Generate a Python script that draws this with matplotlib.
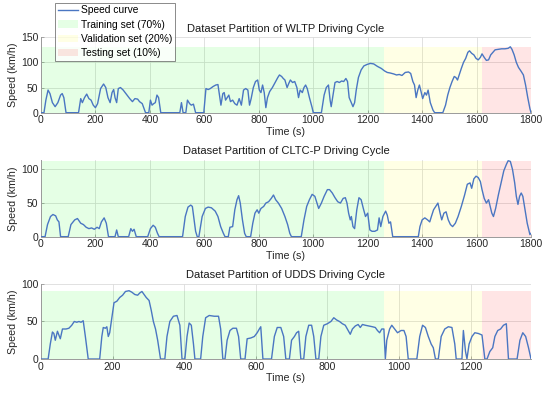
import matplotlib
matplotlib.use('Agg')
import matplotlib.pyplot as plt
from matplotlib.patches import Patch
from matplotlib.lines import Line2D

plt.rcParams['font.family'] = ['Liberation Sans', 'DejaVu Sans']

# WLTP speed trace (time s, speed km/h)
wltp_t = [0, 11, 18, 26, 33, 42, 52, 62, 72, 78, 84, 92, 138, 146, 152, 160, 168, 176, 184, 192,
          200, 208, 219, 230, 238, 246, 254, 261, 267, 272, 278, 284, 292, 302, 316, 326, 336, 345,
          355, 362, 372, 384, 396, 402, 408, 414, 420, 426, 432, 440, 510, 516, 522, 532, 538, 546,
          552, 560, 568, 598, 606, 614, 622, 632, 642, 650, 657, 661, 668, 673, 678, 684, 690, 696,
          704, 712, 720, 728, 736, 744, 752, 760, 766, 772, 780, 788, 796, 802, 808, 814, 820, 826,
          832, 840, 850, 860, 870, 876, 884, 890, 896, 904, 910, 916, 924, 932, 940, 946, 952, 960,
          966, 972, 978, 986, 996, 1000, 1030, 1040, 1048, 1056, 1062, 1066, 1074, 1080, 1088, 1096,
          1104, 1112, 1120, 1126, 1132, 1140, 1146, 1152, 1158, 1166, 1176, 1186, 1198, 1210, 1222,
          1236, 1250, 1262, 1272, 1282, 1296, 1306, 1316, 1326, 1338, 1350, 1358, 1366, 1372, 1378,
          1384, 1390, 1396, 1402, 1410, 1416, 1422, 1430, 1440, 1446, 1476, 1486, 1494, 1502, 1510,
          1518, 1524, 1530, 1536, 1544, 1552, 1560, 1568, 1574, 1582, 1590, 1598, 1606, 1614, 1620,
          1628, 1636, 1644, 1652, 1660, 1668, 1680, 1692, 1704, 1716, 1724, 1730, 1738, 1746, 1754,
          1764, 1772, 1780, 1788, 1796, 1800]
wltp_v = [0, 0, 25, 45, 38, 20, 12, 20, 35, 38, 30, 0, 0, 28, 20, 30, 37, 28, 25, 15,
          10, 18, 48, 57, 50, 30, 20, 40, 46, 30, 20, 48, 50, 45, 35, 28, 22, 28,
          27, 22, 18, 0, 0, 25, 15, 18, 20, 35, 30, 0, 0, 20, 0, 0, 25, 18,
          15, 17, 0, 0, 48, 46, 48, 52, 55, 56, 30, 15, 38, 40, 25, 30, 35, 22,
          25, 18, 15, 28, 15, 45, 48, 45, 15, 28, 50, 62, 65, 45, 40, 55, 40, 10,
          30, 42, 50, 60, 70, 75, 72, 68, 65, 50, 58, 65, 60, 62, 50, 30, 45, 40,
          50, 55, 48, 30, 10, 0, 0, 35, 50, 55, 25, 12, 40, 60, 62, 60,
          63, 62, 68, 62, 30, 20, 12, 20, 45, 70, 85, 93, 96, 98, 97,
          92, 88, 83, 80, 79, 77, 75, 76, 74, 80, 81, 78, 62, 55, 30,
          45, 55, 42, 28, 40, 35, 45, 20, 5, 0, 0, 15, 35, 50, 62,
          72, 70, 65, 75, 88, 100, 108, 120, 123, 118, 115, 108, 105, 110, 117,
          110, 104, 105, 115, 120, 125, 126, 127, 127, 128, 131, 126, 115, 100, 90,
          82, 75, 55, 30, 8, 0]

# CLTC-P speed trace
cltc_t = [0, 15, 24, 35, 44, 54, 60, 66, 72, 100, 110, 124, 134, 146, 156, 166, 176, 186, 196, 206,
          214, 222, 232, 240, 248, 272, 278, 284, 322, 330, 336, 342, 350, 392, 402, 412, 420, 428,
          434, 520, 530, 540, 550, 556, 568, 574, 580, 592, 604, 614, 626, 640, 650, 660, 670, 676,
          688, 694, 704, 712, 720, 726, 732, 740, 748, 754, 770, 778, 786, 794, 800, 808, 818, 826,
          836, 846, 854, 862, 872, 884, 896, 906, 914, 920, 956, 966, 976, 986, 996, 1006, 1014, 1020,
          1030, 1040, 1052, 1060, 1070, 1080, 1090, 1100, 1110, 1118, 1124, 1130, 1136, 1140, 1146,
          1152, 1160, 1168, 1176, 1184, 1192, 1200, 1208, 1216, 1226, 1236, 1242, 1248, 1256, 1266,
          1272, 1278, 1284, 1292, 1386, 1392, 1400, 1410, 1420, 1428, 1434, 1442, 1450, 1458, 1466,
          1472, 1480, 1488, 1496, 1504, 1512, 1522, 1532, 1544, 1556, 1566, 1576, 1582, 1590, 1598,
          1606, 1614, 1620, 1628, 1636, 1644, 1650, 1656, 1662, 1670, 1680, 1690, 1700, 1710, 1716,
          1724, 1732, 1740, 1746, 1752, 1758, 1764, 1770, 1778, 1786, 1792, 1796, 1800]
cltc_v = [0, 0, 18, 30, 33, 31, 25, 22, 0, 0, 18, 25, 27, 20, 18, 14, 12, 13, 11, 14,
          12, 22, 28, 20, 0, 0, 10, 0, 0, 12, 8, 11, 0, 0, 12, 17, 14, 5,
          0, 0, 30, 44, 47, 45, 8, 0, 0, 30, 42, 44, 43, 38, 30, 15, 5, 0,
          0, 14, 15, 40, 55, 61, 50, 25, 5, 0, 0, 20, 35, 40, 35, 42, 45, 50,
          52, 57, 62, 55, 50, 42, 30, 18, 5, 0, 0, 25, 45, 55, 63, 60, 50, 42,
          50, 60, 70, 70, 65, 58, 52, 50, 57, 58, 50, 35, 25, 30, 15,
          12, 40, 58, 55, 42, 30, 35, 10, 8, 8, 10, 28, 15, 30, 38,
          32, 20, 22, 0, 0, 15, 25, 28, 25, 22, 30, 40, 45, 50, 35,
          25, 35, 37, 25, 18, 15, 20, 30, 45, 62, 78, 80, 72, 86, 90,
          88, 82, 70, 57, 50, 55, 45, 35, 30, 42, 62, 80, 98, 108, 113,
          112, 100, 80, 60, 48, 60, 65, 60, 40, 20, 10, 3, 5]

# UDDS speed trace
udds_t = [0, 20, 26, 32, 36, 40, 46, 50, 54, 60, 70, 78, 86, 93, 100, 106, 112, 118, 124, 132,
          164, 170, 174, 180, 184, 188, 192, 198, 204, 212, 220, 228, 236, 246, 254, 262, 270, 276,
          282, 288, 294, 302, 308, 314, 320, 326, 334, 346, 352, 360, 370, 380, 388, 394, 402, 408,
          414, 420, 426, 430, 446, 452, 460, 470, 484, 496, 502, 508, 514, 520, 528, 536, 546, 552,
          558, 570, 576, 586, 596, 604, 610, 614, 620, 644, 652, 660, 670, 678, 684, 694, 700, 708,
          714, 720, 726, 734, 740, 748, 756, 762, 768, 776, 782, 790, 800, 810, 818, 826, 834, 842,
          850, 858, 864, 870, 878, 886, 892, 898, 906, 916, 926, 934, 940, 946, 952, 958, 962, 966,
          974, 980, 988, 996, 1006, 1014, 1020, 1026, 1050, 1058, 1066, 1074, 1082, 1090, 1096, 1102,
          1110, 1118, 1128, 1138, 1148, 1156, 1160, 1176, 1180, 1186, 1190, 1196, 1204, 1212, 1222,
          1232, 1240, 1246, 1254, 1262, 1268, 1276, 1284, 1292, 1300, 1306, 1330, 1338, 1346, 1354,
          1362, 1369]
udds_v = [0, 0, 20, 36, 34, 25, 37, 32, 27, 40, 40, 41, 45, 50, 49, 50, 49, 51, 30, 0,
          0, 30, 42, 41, 43, 30, 35, 55, 75, 77, 82, 85, 90, 91, 89, 86, 85, 88,
          90, 86, 82, 78, 65, 50, 40, 25, 0, 0, 30, 50, 57, 58, 45, 0, 0, 30,
          48, 45, 20, 0, 0, 30, 55, 58, 57, 57, 40, 0, 0, 25, 38, 41, 41, 30,
          0, 0, 27, 28, 30, 35, 40, 43, 0, 0, 30, 42, 42, 30, 0, 0, 25, 30,
          35, 37, 0, 0, 30, 45, 45, 30, 0, 0, 30, 45, 47, 50, 55, 52, 50, 47,
          45, 38, 33, 40, 44, 46, 42, 46, 45, 44, 43, 42, 38, 35, 40, 40, 0, 25,
          40, 45, 40, 35, 38, 38, 30, 0, 0, 30, 45, 42, 30, 20, 15, 0,
          0, 30, 40, 43, 42, 20, 0, 0, 38, 10, 0, 20, 30, 35, 34,
          32, 0, 0, 10, 15, 30, 38, 40, 45, 47, 0, 0, 25, 35, 30,
          15, 0]

titles = ['Dataset Partition of WLTP Driving Cycle',
          'Dataset Partition of CLTC-P Driving Cycle',
          'Dataset Partition of UDDS Driving Cycle']
cycles = [(wltp_t, wltp_v), (cltc_t, cltc_v), (udds_t, udds_v)]
xlims = [1800, 1800, 1369]
ylims = [150, 114, 100]
yticks = [[0, 50, 100, 150], [0, 50, 100], [0, 50, 100]]
xticks = [range(0, 1801, 200), range(0, 1801, 200), range(0, 1201, 200)]

# split fractions: training, validation, testing
split_frac = [0.7, 0.2, 0.1]
split_names = ['Training set (70%)', 'Validation set (20%)', 'Testing set (10%)']
split_colors = ['#00ff00', '#ffff00', '#ff0000']

line_color = '#4a76c2'
tick_color = '#262626'

fig = plt.figure(figsize=(5.5, 3.95), dpi=100)
boxes = [[0.0745, 0.7147, 0.891, 0.191],
         [0.0745, 0.4008, 0.891, 0.194],
         [0.0745, 0.0911, 0.891, 0.190]]

for i in range(3):
    ax = fig.add_axes(boxes[i])
    t, v = cycles[i]
    T = xlims[i]
    vmax = max(v)
    left = 0
    for frac, col in zip(split_frac, split_colors):
        ax.bar(left * T, vmax, width=frac * T, align='edge', color=col, alpha=0.1,
               linewidth=0, zorder=1)
        left += frac
    ax.plot(t, v, color=line_color, lw=1.0, zorder=3)
    ax.set_xlim(0, T)
    ax.set_ylim(0, ylims[i])
    ax.set_xticks(list(xticks[i]))
    ax.set_yticks(yticks[i])
    ax.grid(True, color='#dcdcdc', lw=0.6, zorder=0)
    ax.set_axisbelow(True)
    for s in ['top', 'right']:
        ax.spines[s].set_visible(False)
    for s in ['left', 'bottom']:
        ax.spines[s].set_color('#9a9a9a')
        ax.spines[s].set_linewidth(0.7)
    ax.tick_params(direction='in', length=2.5, width=0.6, color='#9a9a9a',
                   labelsize=7.5, labelcolor=tick_color, pad=2)
    ax.set_title(titles[i], fontsize=8, color='#1a1a1a', pad=4)
    ax.set_xlabel('Time (s)', fontsize=7.7, color=tick_color, labelpad=1)
    ax.set_ylabel('Speed (km/h)', fontsize=7.7, color=tick_color, labelpad=2)
    if i == 0:
        handles = [Line2D([0], [0], color=line_color, lw=1.0)]
        for col in split_colors:
            handles.append(Patch(facecolor=col, alpha=0.1, edgecolor='none'))
        leg = fig.legend(handles, ['Speed curve'] + split_names,
                         loc='upper left', bbox_to_anchor=(0.1, 0.993),
                         fontsize=7.4, frameon=True, fancybox=False,
                         borderpad=0.25, labelspacing=0.42, handlelength=2.0,
                         handletextpad=0.3, borderaxespad=0)
        leg.get_frame().set_edgecolor('#555555')
        leg.get_frame().set_linewidth(0.6)

fig.savefig('out.png', dpi=100)
